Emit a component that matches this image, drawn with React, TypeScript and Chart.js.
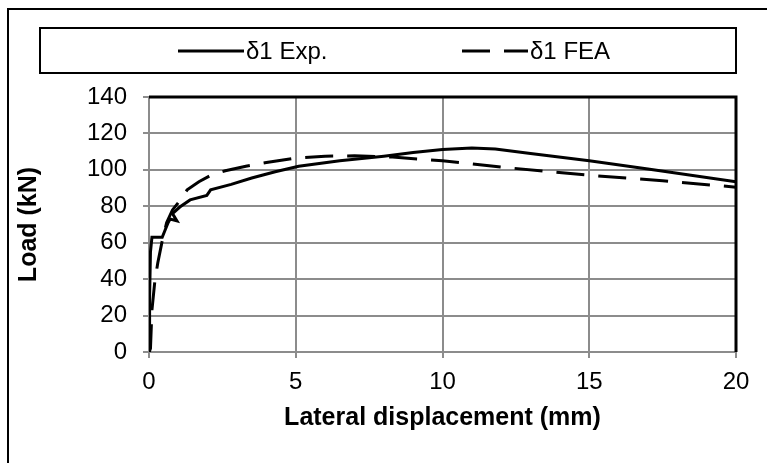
import React, { useEffect, useRef } from "react";
import { Chart, registerables } from "chart.js";

Chart.register(...registerables);

// Experimental curve (δ1 Exp.)
const expX = [0, 0.02, 0.05, 0.1, 0.45, 0.55, 0.65, 0.72, 0.95, 0.8, 1.05, 1.4, 1.97, 2.1, 2.8, 3.5, 4.3, 5.1, 6.5, 8.0, 9.0, 10.0, 11.0, 11.8, 13.0, 15.0, 17.0, 20.0];
const expY = [0, 30, 55, 63, 63, 67, 71, 73, 72, 76, 79.6, 83.5, 86, 89, 92, 95.5, 99, 102, 105, 107.5, 109.5, 111.2, 112, 111.5, 109, 105, 100.5, 93.5];

// FEA curve (δ1 FEA)
const feaX = [0, 0.05, 0.1, 0.2, 0.3, 0.45, 0.6, 0.8, 1.0, 1.3, 1.7, 2.1, 2.6, 3.3, 4.0, 5.0, 6.0, 7.0, 8.3, 10.0, 12.0, 15.0, 17.5, 20.0];
const feaY = [0, 2, 23, 39, 49, 61, 71, 78, 82, 89, 93.5, 97, 99.5, 102, 104, 106.5, 107.5, 107.7, 107, 105, 101.5, 97, 94, 90.5];

const seriesLabels = ["δ1 Exp.", "δ1 FEA"];
const xTitle = "Lateral displacement (mm)";
const yTitle = "Load (kN)";

const FONT = "'Liberation Sans', Arial, sans-serif";

const framePlugin = {
  id: "framePlugin",
  beforeDraw(chart: any) {
    const ctx = chart.ctx;
    ctx.save();
    ctx.fillStyle = "#fff";
    ctx.fillRect(0, 0, chart.width, chart.height);
    ctx.strokeStyle = "#000";
    ctx.lineWidth = 2;
    ctx.beginPath();
    ctx.moveTo(8, chart.height + 2);
    ctx.lineTo(8, 9);
    ctx.lineTo(chart.width + 2, 9);
    ctx.stroke();
    ctx.restore();
  },
  afterDraw(chart: any) {
    const ctx = chart.ctx;
    const a = chart.chartArea;
    ctx.save();
    // plot area border (top & right black)
    ctx.strokeStyle = "#000";
    ctx.lineWidth = 3;
    ctx.beginPath();
    ctx.moveTo(a.left, a.top);
    ctx.lineTo(a.right, a.top);
    ctx.lineTo(a.right, a.bottom);
    ctx.stroke();

    // legend box
    ctx.lineWidth = 2;
    ctx.strokeRect(40, 28, 696, 45);
    const ly = 51;
    ctx.font = "24px " + FONT;
    ctx.fillStyle = "#000";
    ctx.textBaseline = "middle";
    ctx.textAlign = "left";
    const items = chart.data.datasets.map((d: any, i: number) => ({
      label: d.label,
      dashed: (d.borderDash || []).length > 0,
      x: i === 0 ? 178 : 462,
    }));
    items.forEach((it: any) => {
      ctx.lineWidth = 3;
      ctx.setLineDash(it.dashed ? [28, 14] : []);
      ctx.beginPath();
      ctx.moveTo(it.x, ly);
      ctx.lineTo(it.x + 66, ly);
      ctx.stroke();
      ctx.setLineDash([]);
      ctx.fillText(it.label, it.x + 68, ly + 1);
    });
    ctx.restore();
  },
};

export default function App() {
  const ref = useRef<HTMLCanvasElement | null>(null);
  useEffect(() => {
    if (!ref.current) return;
    const chart = new Chart(ref.current, {
      type: "line",
      data: {
        datasets: [
          {
            label: seriesLabels[0],
            data: expX.map((x, i) => ({ x, y: expY[i] })),
            borderColor: "#000",
            borderWidth: 3,
            pointRadius: 0,
            tension: 0,
            fill: false,
          },
          {
            label: seriesLabels[1],
            data: feaX.map((x, i) => ({ x, y: feaY[i] })),
            borderColor: "#000",
            borderWidth: 3,
            borderDash: [28, 14],
            pointRadius: 0,
            tension: 0,
            fill: false,
          },
        ],
      },
      options: {
        animation: false,
        responsive: false,
        layout: { padding: { left: 0, top: 97, right: 31, bottom: 0 } },
        plugins: {
          legend: { display: false },
          tooltip: { enabled: false },
        },
        scales: {
          x: {
            type: "linear",
            min: 0,
            max: 20,
            afterFit: (s: any) => {
              s.height = 111;
            },
            ticks: {
              stepSize: 5,
              color: "#000",
              font: { family: FONT, size: 24 },
              padding: 10,
              maxRotation: 0,
            },
            grid: {
              color: "#8c8c8c",
              lineWidth: 2,
              tickLength: 6,
              drawTicks: true,
            },
            border: { color: "#8c8c8c", width: 2 },
            title: {
              display: true,
              text: xTitle,
              color: "#000",
              font: { family: FONT, size: 25, weight: "bold" },
              padding: { top: 0, bottom: 30 },
            },
          },
          y: {
            type: "linear",
            min: 0,
            max: 140,
            afterFit: (s: any) => {
              s.width = 149;
            },
            ticks: {
              stepSize: 20,
              color: "#000",
              font: { family: FONT, size: 24 },
              padding: 16,
            },
            grid: {
              color: "#8c8c8c",
              lineWidth: 2,
              tickLength: 6,
              drawTicks: true,
            },
            border: { color: "#8c8c8c", width: 2 },
            title: {
              display: true,
              text: yTitle,
              color: "#000",
              font: { family: FONT, size: 25, weight: "bold" },
              padding: { top: 14, bottom: 0 },
            },
          },
        },
      },
      plugins: [framePlugin],
    });
    return () => chart.destroy();
  }, []);
  return (
    <div style={{ position: "fixed", left: 0, top: 0, width: 767, height: 463, background: "#fff" }}>
      <canvas ref={ref} width={767} height={463} style={{ display: "block", width: 767, height: 463 }} />
    </div>
  );
}
